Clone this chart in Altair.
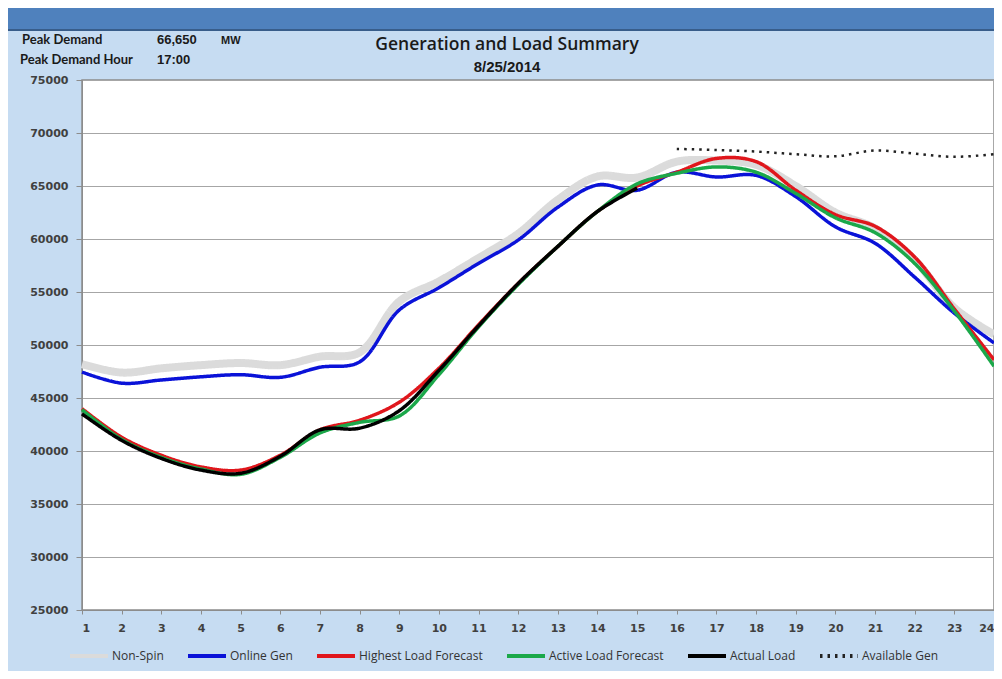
import altair as alt
import pandas as pd

hours = list(range(1, 25))
series_names = ["Non-Spin", "Online Gen", "Highest Load Forecast",
                "Active Load Forecast", "Actual Load", "Available Gen"]
series_colors = ["#DBDBDB", "#0A12D8", "#E0161C", "#1BA84A", "#000000", "#222222"]
series_dash = [[1, 0], [1, 0], [1, 0], [1, 0], [1, 0], [2.5, 5]]

non_spin = [48200, 47400, 47800, 48100, 48300, 48100, 48900, 49300, 54100, 56000,
            58200, 60500, 63700, 65900, 65800, 67300, 67400, 67000, 65000, 62500,
            61000, 58000, 53500, 51000]
online_gen = [47450, 46400, 46700, 47000, 47200, 46950, 47900, 48400, 53300, 55400,
              57700, 59900, 63000, 65100, 64600, 66300, 65850, 66000, 64000, 61150,
              59600, 56400, 53000, 50200]
highest_load = [44000, 41300, 39600, 38500, 38200, 39600, 42000, 42900, 44600, 47800,
                51900, 55800, 59300, 62600, 65000, 66300, 67600, 67300, 64600, 62300,
                61200, 58300, 53400, 48600]
active_load = [43900, 41100, 39400, 38300, 37800, 39400, 41700, 42700, 43300, 47200,
               51700, 55700, 59300, 62600, 65200, 66200, 66800, 66300, 64300, 62000,
               60600, 57700, 53200, 48000]
actual_hours = list(range(1, 16))
actual_load = [43500, 41000, 39300, 38200, 37900, 39500, 42000, 42150, 43800, 47600,
               51800, 55800, 59300, 62600, 64800]
avail_hours = list(range(16, 25))
available_gen = [68500, 68400, 68250, 68000, 67800, 68350, 68050, 67750, 68000]

y_ticks = list(range(25000, 75001, 5000))

peak_demand = "66,650"
peak_hour = "17:00"
title_text = "Generation and Load Summary"
date_text = "8/25/2014"


def frame(xs, ys, name):
    return pd.DataFrame({"hour": xs, "value": ys, "series": name})


color_scale = alt.Scale(domain=series_names, range=series_colors)
dash_scale = alt.Scale(domain=series_names, range=series_dash)

legend = alt.Legend(
    title=None, orient="none", direction="horizontal", columns=6,
    legendX=-14, legendY=555, symbolType="stroke", symbolSize=1444,
    symbolStrokeWidth=4, labelFont="Open Sans", labelFontSize=12,
    labelColor="#333333", labelOffset=2, columnPadding=16,
)

x_enc = alt.X("hour:Q", scale=alt.Scale(domain=[1, 24], nice=False),
              axis=alt.Axis(values=hours, format="d", title=None, grid=False,
                            tickSize=4, labelPadding=8))
y_enc = alt.Y("value:Q", scale=alt.Scale(domain=[25000, 75000], nice=False),
              axis=alt.Axis(values=y_ticks, format="d", title=None, grid=True,
                            tickSize=6, labelPadding=8))


def line(df, width, interp="catmull-rom"):
    return alt.Chart(df).mark_line(strokeWidth=width, interpolate=interp).encode(
        x=x_enc, y=y_enc,
        color=alt.Color("series:N", scale=color_scale, legend=legend),
        strokeDash=alt.StrokeDash("series:N", scale=dash_scale, legend=legend),
    )


lines = [
    line(frame(hours, non_spin, "Non-Spin"), 8),
    line(frame(hours, online_gen, "Online Gen"), 3.5),
    line(frame(hours, highest_load, "Highest Load Forecast"), 3.5),
    line(frame(hours, active_load, "Active Load Forecast"), 3.5),
    line(frame(actual_hours, actual_load, "Actual Load"), 3.5),
    line(frame(avail_hours, available_gen, "Available Gen"), 2.5),
]

one = pd.DataFrame({"k": [0]})

top_bar = alt.Chart(one).mark_rect(color="#4F81BD", stroke="#385D8A", strokeWidth=2,
                                   cornerRadius=3).encode(
    x=alt.value(-77), x2=alt.value(930), y=alt.value(-75), y2=alt.value(-50)
)

hdr = dict(font="Lato", fontSize=13, fontWeight="bold", color="#1A1A1A",
           align="left", baseline="middle")
hdr_num = dict(font="Liberation Sans", fontSize=13, fontWeight="bold", color="#1A1A1A",
               align="left", baseline="middle")

texts = [
    alt.Chart(one).mark_text(text="Peak Demand", **hdr).encode(x=alt.value(-60), y=alt.value(-40)),
    alt.Chart(one).mark_text(text="Peak Demand Hour", **hdr).encode(x=alt.value(-62), y=alt.value(-20)),
    alt.Chart(one).mark_text(text=peak_demand, **hdr_num).encode(x=alt.value(75), y=alt.value(-40)),
    alt.Chart(one).mark_text(text="MW", font="Liberation Sans", fontSize=11, fontWeight="bold",
                             color="#1A1A1A", align="left", baseline="middle").encode(
        x=alt.value(139), y=alt.value(-39)),
    alt.Chart(one).mark_text(text=peak_hour, **hdr_num).encode(x=alt.value(75), y=alt.value(-20)),
    alt.Chart(one).mark_text(text=title_text, font="Open Sans", fontSize=17.5, fontWeight=600,
                             color="#1A1A1A", align="center", baseline="middle").encode(
        x=alt.value(425), y=alt.value(-35)),
    alt.Chart(one).mark_text(text=date_text, font="Liberation Sans", fontSize=15, fontWeight="bold",
                             color="#1A1A1A", align="center", baseline="middle").encode(
        x=alt.value(425), y=alt.value(-13)),
]

chart = alt.layer(top_bar, *texts, *lines).properties(
    width=912, height=530,
    autosize=alt.AutoSizeParams(type="none"),
    padding={"left": 74, "top": 72, "right": 0, "bottom": 61},
    background="#C6DCF2",
).configure_view(
    fill="white", stroke="#8C8C8C", strokeWidth=1.5
).configure_axis(
    labelFont="DejaVu Sans", labelFontSize=11, labelFontWeight="bold",
    labelColor="#404040", domainColor="#8C8C8C", tickColor="#8C8C8C",
    gridColor="#A6A6A6", gridWidth=1,
)

chart.save("out.html", embed_options={"renderer": "svg", "actions": False})
